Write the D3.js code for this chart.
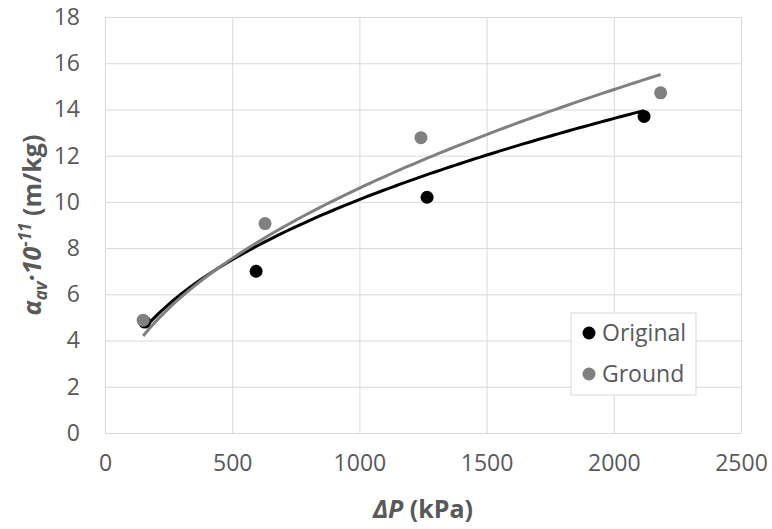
<!DOCTYPE html>
<html lang="en">
  <head>
    <meta charset="utf-8">
    <title>Specific cake resistance vs pressure</title>
    <script src="https://d3js.org/d3.v7.min.js"></script>
    <style>
      body { margin: 0; background: white; }
      text { font-family: "Open Sans", "Noto Sans", sans-serif; }
    </style>
  </head>
  <body>
    <script>
      // data
      var originalP = [156, 594, 1266, 2119];
      var originalA = [4.8, 7.0, 10.2, 13.7];
      var groundP = [150, 629, 1242, 2184];
      var groundA = [4.88, 9.06, 12.78, 14.72];
      // power trendlines y = a * x^b
      var originalFit = {a: 0.518, b: 0.43};
      var groundFit = {a: 0.364, b: 0.488};
      var xTicks = [0, 500, 1000, 1500, 2000, 2500];
      var yTicks = [0, 2, 4, 6, 8, 10, 12, 14, 16, 18];

      var w = 772, h = 529;
      var margin = {top: 17, right: 31, bottom: 96, left: 105};
      var innerWidth = w - margin.left - margin.right;
      var innerHeight = h - margin.top - margin.bottom;

      var svg = d3.select("body").append("svg")
          .attr("width", w)
          .attr("height", h);

      var xScale = d3.scaleLinear().domain([0, 2500]).range([0, innerWidth]);
      var yScale = d3.scaleLinear().domain([0, 18]).range([innerHeight, 0]);

      var g = svg.append("g")
          .attr("transform", `translate(${margin.left}, ${margin.top})`);

      // gridlines
      g.append("g")
          .call(d3.axisLeft(yScale).tickValues(yTicks).tickSize(-innerWidth).tickFormat(""))
          .call(s => s.select(".domain").remove())
          .call(s => s.selectAll("text").remove())
          .selectAll("line").attr("stroke", "#d9d9d9");
      g.append("g")
          .attr("transform", `translate(0, ${innerHeight})`)
          .call(d3.axisBottom(xScale).tickValues(xTicks).tickSize(-innerHeight).tickFormat(""))
          .call(s => s.select(".domain").remove())
          .call(s => s.selectAll("text").remove())
          .selectAll("line").attr("stroke", "#d9d9d9");

      // tick labels
      var yAxis = g.append("g")
          .call(d3.axisLeft(yScale).tickValues(yTicks).tickSize(0).tickPadding(25).tickFormat(d3.format("d")));
      yAxis.select(".domain").remove();
      yAxis.selectAll("text").attr("font-size", 23).attr("fill", "#595959")
          .style("font-family", "'Open Sans', sans-serif");

      var xAxis = g.append("g")
          .attr("transform", `translate(0, ${innerHeight})`)
          .call(d3.axisBottom(xScale).tickValues(xTicks).tickSize(0).tickPadding(22).tickFormat(d3.format("d")));
      xAxis.select(".domain").remove();
      xAxis.selectAll("text").attr("font-size", 23).attr("fill", "#595959")
          .style("font-family", "'Open Sans', sans-serif");

      // trendlines
      function trend(fit, x0, x1) {
        var pts = d3.range(0, 101).map(i => x0 + (x1 - x0) * i / 100);
        return d3.line()
            .x(d => xScale(d))
            .y(d => yScale(fit.a * Math.pow(d, fit.b)))(pts);
      }
      g.append("path")
          .attr("d", trend(originalFit, d3.min(originalP) + 12, d3.max(originalP)))
          .attr("fill", "none").attr("stroke", "#000").attr("stroke-width", 3);
      g.append("path")
          .attr("d", trend(groundFit, d3.min(groundP), d3.max(groundP)))
          .attr("fill", "none").attr("stroke", "#808080").attr("stroke-width", 3);

      // points
      g.selectAll(".orig").data(originalP).enter().append("circle")
          .attr("class", "orig")
          .attr("cx", d => xScale(d))
          .attr("cy", (d, i) => yScale(originalA[i]))
          .attr("r", 6.5).attr("fill", "#000");
      g.selectAll(".grnd").data(groundP).enter().append("circle")
          .attr("class", "grnd")
          .attr("cx", d => xScale(d))
          .attr("cy", (d, i) => yScale(groundA[i]))
          .attr("r", 6.5).attr("fill", "#808080");

      // legend
      var legend = svg.append("g").attr("transform", "translate(571, 313)");
      legend.append("rect")
          .attr("width", 125).attr("height", 82)
          .attr("fill", "white").attr("stroke", "#d9d9d9");
      var items = [{name: "Original", color: "#000"}, {name: "Ground", color: "#808080"}];
      items.forEach(function(d, i) {
        legend.append("circle").attr("cx", 18).attr("cy", 20 + i * 41)
            .attr("r", 6.5).attr("fill", d.color);
        legend.append("text").attr("x", 31).attr("y", 20 + i * 41)
            .attr("dy", "0.35em").attr("font-size", 23).attr("fill", "#595959")
            .text(d.name);
      });

      // axis titles
      var xt = svg.append("text")
          .attr("x", margin.left + innerWidth / 2).attr("y", 518)
          .attr("text-anchor", "middle").attr("font-size", 25)
          .attr("font-weight", "bold").attr("fill", "#595959");
      xt.append("tspan").attr("font-style", "italic").text("ΔP");
      xt.append("tspan").text(" (kPa)");

      var yt = svg.append("text")
          .attr("transform", `translate(41, ${margin.top + innerHeight / 2}) rotate(-90)`)
          .attr("text-anchor", "middle").attr("font-size", 25)
          .attr("font-weight", "bold").attr("fill", "#595959");
      yt.append("tspan").attr("font-style", "italic").text("α");
      yt.append("tspan").attr("font-style", "italic").attr("font-size", 17).attr("dy", 6).text("av");
      yt.append("tspan").attr("font-style", "italic").attr("dy", -6).text("·10");
      yt.append("tspan").attr("font-style", "italic").attr("font-size", 17).attr("dy", -10).text("-11");
      yt.append("tspan").attr("dy", 10).text(" (m/kg)");
    </script>
  </body>
</html>
